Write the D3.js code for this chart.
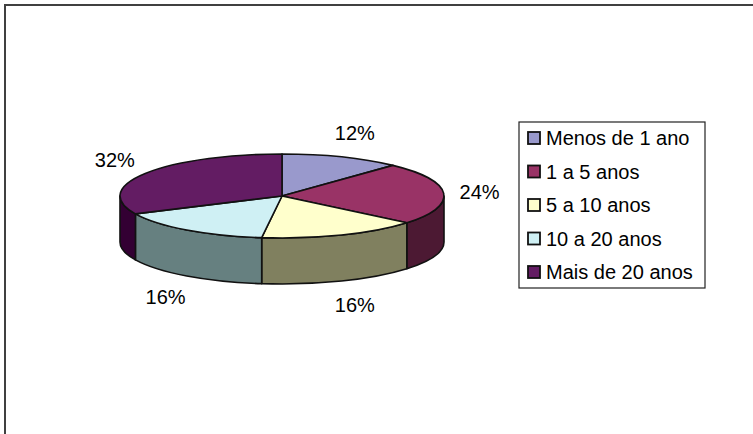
<!DOCTYPE html>
<html>
<head>
<meta charset="utf-8">
<script src="https://cdn.jsdelivr.net/npm/d3@7"></script>
<style>
  html, body { margin: 0; padding: 0; background: #fff; }
  svg { display: block; }
  text { font-family: "Liberation Sans", Arial, sans-serif; fill: #000; }
</style>
</head>
<body>
<svg id="chart" width="753" height="434"></svg>
<script>
// Tempo de serviço: share of respondents per band
const categories = ["Menos de 1 ano", "1 a 5 anos", "5 a 10 anos", "10 a 20 anos", "Mais de 20 anos"];
const values = [12, 24, 16, 16, 32];
const topColors = ["#9999cc", "#993366", "#ffffcc", "#cff0f4", "#631c63"];
const sideColors = ["#4c4c66", "#4c1933", "#80805f", "#668080", "#330033"];

const W = 753, H = 434;
const svg = d3.select("#chart");

// frame (top and left edges visible in the window)
svg.append("path")
  .attr("d", `M5,${H} L5,5 L${W},5`)
  .attr("fill", "none").attr("stroke", "#404040").attr("stroke-width", 2);

// ellipse geometry of the 3D pie
const cx = 282, cy = 196, rx = 162, ry = 42, depth = 46;

const pie = d3.pie().sort(null).value(d => d)
  .startAngle(0).endAngle(2 * Math.PI);
const arcs = pie(values);

const topColor = d3.scaleOrdinal().domain(categories).range(topColors);
const sideColor = d3.scaleOrdinal().domain(categories).range(sideColors);

// point on the rim for angle a (clockwise from 12 o'clock), dropped by dz
const px = (a) => cx + rx * Math.sin(a);
const py = (a, dz = 0) => cy - ry * Math.cos(a) + dz;

function topPath(a0, a1) {
  const p = d3.path();
  p.moveTo(cx, cy);
  p.lineTo(px(a0), py(a0));
  const large = (a1 - a0) > Math.PI ? 1 : 0;
  return p.toString() +
    ` A${rx},${ry} 0 ${large} 1 ${px(a1)},${py(a1)} Z`;
}

function sidePath(a0, a1) {
  const large = (a1 - a0) > Math.PI ? 1 : 0;
  return `M${px(a0)},${py(a0)}` +
    ` A${rx},${ry} 0 ${large} 1 ${px(a1)},${py(a1)}` +
    ` L${px(a1)},${py(a1, depth)}` +
    ` A${rx},${ry} 0 ${large} 0 ${px(a0)},${py(a0, depth)} Z`;
}

const g = svg.append("g");

// visible walls: only the front half (between 3 and 9 o'clock)
const sides = arcs.map((d, i) => {
  const s0 = Math.max(d.startAngle, Math.PI / 2);
  const s1 = Math.min(d.endAngle, 3 * Math.PI / 2);
  return { i, s0, s1 };
}).filter(d => d.s1 > d.s0);

g.selectAll("path.side").data(sides).join("path")
  .attr("class", "side")
  .attr("d", d => sidePath(d.s0, d.s1))
  .attr("fill", d => sideColor(categories[d.i]))
  .attr("stroke", "#111").attr("stroke-width", 1.6)
  .attr("stroke-linejoin", "round");

g.selectAll("path.top").data(arcs).join("path")
  .attr("class", "top")
  .attr("d", d => topPath(d.startAngle, d.endAngle))
  .attr("fill", (d, i) => topColor(categories[i]))
  .attr("stroke", "#111").attr("stroke-width", 1.6)
  .attr("stroke-linejoin", "round");

// percentage labels around the rim
const lrx = rx + 36, lry = ry + 26;
svg.selectAll("text.pct").data(arcs).join("text")
  .attr("class", "pct")
  .attr("x", d => {
    const m = (d.startAngle + d.endAngle) / 2;
    return cx + lrx * Math.sin(m);
  })
  .attr("y", d => {
    const m = (d.startAngle + d.endAngle) / 2;
    const down = Math.cos(m) < 0 ? depth : 0;
    return cy - lry * Math.cos(m) + down;
  })
  .attr("text-anchor", "middle")
  .attr("dominant-baseline", "central")
  .attr("font-size", 20)
  .text(d => d.data + "%");

// legend
const legend = svg.append("g").attr("transform", "translate(519,122)");
legend.append("rect")
  .attr("x", 0).attr("y", 0).attr("width", 186).attr("height", 166)
  .attr("fill", "#fff").attr("stroke", "#222").attr("stroke-width", 1.2);

const rowY = d3.scalePoint().domain(categories).range([16, 150]);
const items = legend.selectAll("g.item").data(categories).join("g")
  .attr("class", "item")
  .attr("transform", d => `translate(0,${rowY(d)})`);
items.append("rect")
  .attr("x", 9).attr("y", -6).attr("width", 12).attr("height", 12)
  .attr("fill", d => topColor(d))
  .attr("stroke", "#111").attr("stroke-width", 1.8);
items.append("text")
  .attr("x", 27).attr("y", 0)
  .attr("dominant-baseline", "central")
  .attr("font-size", 20)
  .text(d => d);
</script>
</body>
</html>
